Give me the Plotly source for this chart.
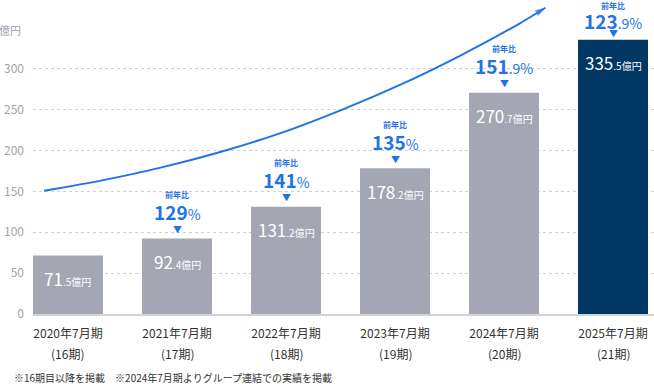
import plotly.graph_objects as go

# ---- data ----
periods = ["2020年7月期", "2021年7月期", "2022年7月期", "2023年7月期", "2024年7月期", "2025年7月期"]
terms = ["(16期)", "(17期)", "(18期)", "(19期)", "(20期)", "(21期)"]
sales = [71.5, 92.4, 131.2, 178.2, 270.7, 335.5]
sales_int = ["71", "92", "131", "178", "270", "335"]
sales_dec = [".5", ".4", ".2", ".2", ".7", ".5"]
yoy_main = [None, "129", "141", "135", "151", "123"]
yoy_dec = [None, "", "", "", ".9", ".9"]
# decorative growth arrow (in axis units)
trend_x = [-0.22, 0.29, 0.84, 1.39, 1.95, 2.50, 3.05, 3.60, 4.15, 4.38]
trend_y = [150.6, 162.8, 178.7, 197.9, 221.2, 249.1, 280.4, 316.1, 355.8, 374.5]

FONT = "Noto Sans CJK JP"
BLUE = "#1f73e6"
GRAY_BAR = "#a4a7b3"
NAVY = "#003863"

x = list(range(len(periods)))
colors = [GRAY_BAR] * (len(x) - 1) + [NAVY]

fig = go.Figure()
fig.add_trace(go.Bar(x=x, y=sales, marker=dict(color=colors, line=dict(width=0)),
                     width=0.642, hoverinfo="skip"))
fig.add_trace(go.Scatter(x=trend_x, y=trend_y, mode="lines+markers",
                         line=dict(color=BLUE, width=2, shape="spline", smoothing=0.6),
                         marker=dict(symbol="arrow", angleref="previous", color=BLUE,
                                     size=[0] * (len(trend_x) - 1) + [11],
                                     line=dict(width=0)),
                         cliponaxis=False, hoverinfo="skip"))

ann = []
for i, v in enumerate(sales):
    ann.append(dict(x=i, y=v, xref="x", yref="y", showarrow=False, yshift=-23,
                    text=f"<span style='font-size:17px'>{sales_int[i]}</span>"
                         f"<span style='font-size:10px'>{sales_dec[i]}億円</span>",
                    font=dict(family=FONT, color="white", size=17)))
    ann.append(dict(x=i, y=0, xref="x", yref="y", showarrow=False, yshift=-39,
                    text=terms[i], font=dict(family=FONT, color="#333333", size=12)))
    if yoy_main[i] is not None:
        # label stack above the bar; compressed when the bar reaches the top of the canvas
        s1, s2, s3 = (44, 27, 9) if v < 320 else (34, 19, 6)
        ann.append(dict(x=i, y=v, xref="x", yref="y", showarrow=False, yshift=s1,
                        text="<b>前年比</b>", font=dict(family=FONT, color=BLUE, size=8)))
        ann.append(dict(x=i, y=v, xref="x", yref="y", showarrow=False, yshift=s2,
                        text=f"<b><span style='font-size:19px'>{yoy_main[i]}</span></b>"
                             f"<span style='font-size:14px'>{yoy_dec[i]}%</span>",
                        font=dict(family=FONT, color=BLUE, size=19)))
        ann.append(dict(x=i, y=v, xref="x", yref="y", showarrow=False, yshift=s3,
                        text="▼", font=dict(family=FONT, color=BLUE, size=9)))

ann.append(dict(xref="paper", yref="y", x=0, y=347, xanchor="right", yanchor="middle",
                xshift=-10, showarrow=False, text="億円",
                font=dict(family=FONT, color="#a0a3ad", size=11)))
ann.append(dict(xref="paper", yref="paper", x=0, y=0, xanchor="left", yanchor="middle",
                xshift=-21, yshift=-63, showarrow=False,
                text="※16期目以降を掲載　※2024年7月期よりグループ連結での実績を掲載",
                font=dict(family=FONT, color="#333333", size=10)))

fig.update_layout(
    width=654, height=384,
    margin=dict(l=33, r=0, t=0, b=70),
    paper_bgcolor="white", plot_bgcolor="white",
    showlegend=False,
    font=dict(family=FONT),
    annotations=ann,
    xaxis=dict(range=[-0.321, 5.376], tickvals=x, ticktext=periods, showgrid=False,
               zeroline=False, showline=True, linecolor="#d3d3d3", linewidth=1.5,
               ticks="outside", ticklen=0, ticklabelstandoff=8,
               tickfont=dict(family=FONT, size=12, color="#333333"), fixedrange=True),
    yaxis=dict(range=[0, 384], tickvals=[0, 50, 100, 150, 200, 250, 300],
               showgrid=True, gridcolor="#cfcfcf", griddash="dot", gridwidth=1,
               zeroline=False, showline=False, ticks="", ticklabelstandoff=8,
               tickfont=dict(family=FONT, size=12, color="#a0a3ad"), fixedrange=True),
)

fig.write_html("out.html", config={"displayModeBar": False},
               post_script="document.body.style.margin='0';")
